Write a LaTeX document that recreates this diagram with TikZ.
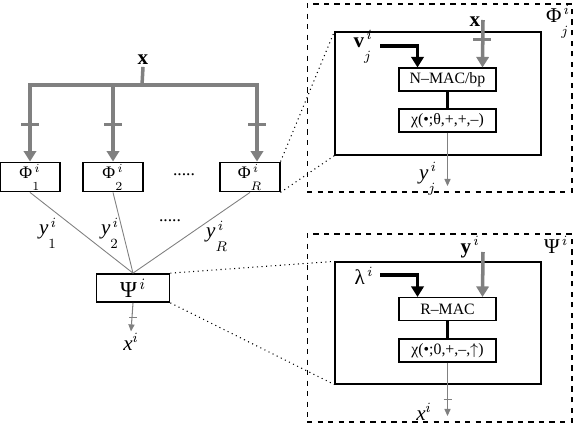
\documentclass[tikz,border=0pt]{standalone}
\usepackage{fontspec}
\setmainfont{Liberation Serif}
\usetikzlibrary{arrows.meta,positioning}
\newcommand\supsub[2]{\ensuremath{^{\,#1}_{\rule{0pt}{1.9ex}#2}}}

\begin{document}
\begin{tikzpicture}[x=0.02cm,y=-0.02cm,
    box/.style={draw,line width=0.6pt,fill=white,inner sep=1pt},
    phibox/.style={box,minimum width=1.2cm,minimum height=0.56cm,font=\fontsize{10}{12}\selectfont},
    macbox/.style={box,minimum width=1.94cm,minimum height=0.46cm,font=\fontsize{9}{11}\selectfont},
    frame/.style={draw,line width=0.7pt,minimum width=4.12cm,minimum height=2.46cm,inner sep=0pt},
    outer/.style={draw,dashed,line width=0.6pt,minimum width=5.3cm,minimum height=3.76cm,inner sep=0pt},
    lbl/.style={inner sep=1pt,font=\fontsize{12}{14}\selectfont},
    gin/.style={draw=gray,line width=2pt,-{Triangle[length=6pt,width=7pt]}},
    kin/.style={draw=black,line width=2pt,-{Triangle[length=6pt,width=7pt]}},
    gout/.style={draw=gray,line width=0.6pt,-{Triangle[length=4pt,width=3.5pt]}},
    gtick/.style={draw=gray,line width=2pt},
    ttick/.style={draw=gray,line width=0.5pt},
    zoomln/.style={dotted,line width=0.6pt},
    yln/.style={draw=gray,line width=0.5pt}]
    \useasboundingbox (0,0) rectangle (578,436);

    % input x fanned out to the Phi blocks
    \node[lbl] (xin) at (143,60) {\textbf{x}};
    \coordinate (bar) at (142,85);
    \node[phibox] (phi1) at (30,177) {Φ\supsub{i}{1}};
    \node[phibox] (phi2) at (113,177) {Φ\supsub{i}{2}};
    \node[phibox] (phiR) at (250,177) {Φ\supsub{i}{R}};
    \node (dots1) at (184,175) {.....};
    \draw[gray,line width=2pt] (xin.south) -- (bar);
    \draw[gin] (bar) -| (phi1.north);
    \draw[gin] (bar) -| (phi2.north);
    \draw[gin] (bar) -| ([xshift=0.14cm]phiR.north);
    \draw[gtick] (phi1.north) ++(-9,-37) -- ++(18,0);
    \draw[gtick] (phi2.north) ++(-9,-37) -- ++(18,0);
    \draw[gtick] ([xshift=0.14cm]phiR.north) ++(-9,-37) -- ++(18,0);

    % outputs y collected by Psi
    \node[box,minimum width=1.46cm,minimum height=0.56cm,line width=1pt,font=\fontsize{13}{15}\selectfont] (psi) at (133,288) {Ψ$^{\,i}$};
    \draw[yln] (phi1.south) -- (psi.north);
    \draw[yln] (phi2.south) -- (psi.north);
    \draw[yln] (phiR.south) -- (psi.north);
    \node[lbl] (y1) at (48,233) {\textit{y}\supsub{i}{1}};
    \node[lbl] (y2) at (110,233) {\textit{y}\supsub{i}{2}};
    \node (dots2) at (170,221) {.....};
    \node[lbl] (yR) at (217,236) {\textit{y}\supsub{i}{R}};
    \node[lbl] (xout) at (131,342) {\textit{x}$^{i}$};
    \draw[gout] (psi.south) -- (xout.north);
    \draw[ttick] (psi.south) ++(-4,15) -- ++(8,0);

    % detail of Phi_j
    \node[outer] (outA) at (439.5,98) {};
    \node[frame] (inA) at (438,93.5) {};
    \node[lbl] (phij) at (558,22) {Φ\supsub{i}{j}};
    \node[macbox] (nmac) at (447.5,79.5) {N–MAC/bp};
    \node[macbox] (chiA) at (447.5,120.5) {χ(•;θ,+,+,–)};
    \draw[line width=1.2pt] (nmac) -- (chiA);
    \node[lbl] (xj) at (475,22) {\textbf{x}};
    \coordinate (xjtop) at (483,20);
    \draw[gin] (xjtop) -- ([xshift=0.7cm]nmac.north);
    \draw[gtick] ([xshift=0.7cm]nmac.north) ++(-9,-28) -- ++(18,0);
    \node[lbl] (vj) at (363,47) {\textbf{v}\supsub{i}{j}};
    \coordinate (vst) at (380,46);
    \draw[kin] (vst) -| ([xshift=-0.6cm]nmac.north);
    \node[lbl] (yj) at (428,179) {\textit{y}\supsub{i}{j}};
    \coordinate (yjend) at (447.5,186);
    \draw[gout] (chiA.south) -- (yjend);

    % detail of Psi
    \node[outer] (outB) at (439.5,328) {};
    \node[frame,minimum height=2.44cm] (inB) at (438,323) {};
    \node[lbl] (psij) at (556,245) {Ψ$^{\,i}$};
    \node[macbox] (rmac) at (447.5,309) {R–MAC};
    \node[macbox] (chiB) at (447.5,350.5) {χ(•;0,+,–,$\uparrow$)};
    \draw[line width=1.2pt] (rmac) -- (chiB);
    \node[lbl] (yB) at (470,247) {\textbf{y}$^{\,i}$};
    \coordinate (yBtop) at (483,252);
    \draw[gin] (yBtop) -- ([xshift=0.7cm]rmac.north);
    \node[lbl] (lam) at (364,276) {λ$^{\,i}$};
    \coordinate (lst) at (380,275);
    \draw[kin] (lst) -| ([xshift=-0.6cm]rmac.north);
    \node[lbl] (xB) at (424,412) {\textit{x}$^{i}$};
    \coordinate (xBend) at (447.5,416);
    \draw[gout] (chiB.south) -- (xBend);
    \draw[ttick] (chiB.south) ++(-4,37) -- ++(8,0);

    % zoom lines
    \draw[zoomln] (phiR.north east) -- (inA.north west);
    \draw[zoomln] (phiR.south east) -- (inA.south west);
    \draw[zoomln] (psi.north east) -- (inB.north west);
    \draw[zoomln] (psi.south east) -- (inB.south west);
\end{tikzpicture}
\end{document}
